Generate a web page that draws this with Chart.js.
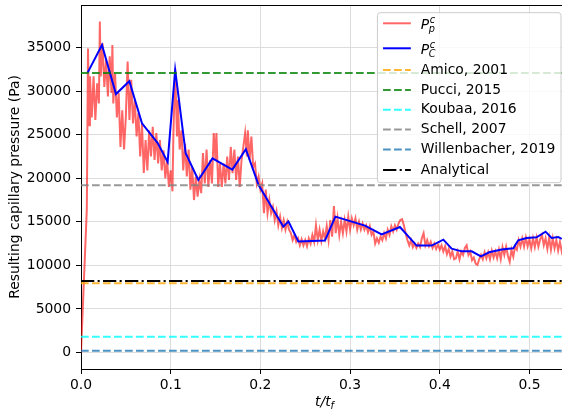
<!DOCTYPE html>
<html>
<head>
<meta charset="utf-8">
<script src="https://cdn.jsdelivr.net/npm/chart.js@4.4.1/dist/chart.umd.min.js"></script>
<style>
  html, body { margin: 0; padding: 0; background: #fff; overflow: hidden; }
  #wrap { width: 570px; height: 413px; }
</style>
</head>
<body>
<div id="wrap"><canvas id="chart" width="570" height="413"></canvas></div>
<script>
// P_p^c : pore-scale capillary pressure (noisy signal), t/t_f and Pa
const redT = [
  0, 0.0065, 0.0078, 0.009, 0.010, 0.012, 0.014, 0.016, 0.018, 0.020, 0.021, 0.022, 0.024, 0.026, 0.028, 0.030,
  0.032, 0.034, 0.035, 0.036, 0.038, 0.040, 0.042, 0.044, 0.046, 0.048, 0.050, 0.052, 0.054, 0.056, 0.058, 0.060,
  0.062, 0.064, 0.066, 0.068, 0.070, 0.072, 0.074, 0.076, 0.078, 0.080, 0.082, 0.084, 0.086, 0.088, 0.090, 0.092,
  0.094, 0.096, 0.098, 0.100, 0.102, 0.103, 0.105, 0.107, 0.108, 0.110, 0.112, 0.114, 0.116, 0.118, 0.120, 0.122,
  0.124, 0.126, 0.128, 0.130, 0.132, 0.134, 0.136, 0.138, 0.140, 0.142, 0.144, 0.146, 0.148, 0.150, 0.151, 0.153,
  0.155, 0.157, 0.159, 0.161, 0.163, 0.165, 0.167, 0.169, 0.171, 0.173, 0.175, 0.177, 0.179, 0.181, 0.183, 0.185,
  0.186, 0.188, 0.190, 0.192, 0.194, 0.196, 0.198, 0.200, 0.202, 0.204, 0.206, 0.208, 0.210, 0.212, 0.214, 0.216,
  0.218, 0.220, 0.222, 0.224, 0.226, 0.228, 0.230, 0.232, 0.234, 0.236, 0.238, 0.240, 0.242, 0.244, 0.246, 0.248,
  0.250, 0.252, 0.254, 0.256, 0.258, 0.260, 0.262, 0.264, 0.266, 0.268, 0.270, 0.272, 0.274, 0.276, 0.278, 0.280,
  0.282, 0.284, 0.286, 0.288, 0.290, 0.292, 0.294, 0.296, 0.298, 0.300, 0.302, 0.304, 0.306, 0.308, 0.310, 0.312,
  0.314, 0.316, 0.318, 0.320, 0.322, 0.324, 0.326, 0.328, 0.330, 0.332, 0.334, 0.336, 0.338, 0.340, 0.342, 0.344,
  0.346, 0.348, 0.350, 0.352, 0.354, 0.356, 0.358, 0.360, 0.362, 0.364, 0.366, 0.368, 0.370, 0.372, 0.374, 0.376,
  0.378, 0.380, 0.382, 0.384, 0.386, 0.388, 0.390, 0.392, 0.394, 0.396, 0.398, 0.400, 0.402, 0.404, 0.406, 0.408,
  0.410, 0.412, 0.414, 0.416, 0.418, 0.420, 0.422, 0.424, 0.426, 0.428, 0.430, 0.432, 0.434, 0.436, 0.438, 0.440,
  0.442, 0.444, 0.446, 0.448, 0.450, 0.452, 0.454, 0.456, 0.458, 0.460, 0.462, 0.464, 0.466, 0.468, 0.470, 0.472,
  0.474, 0.476, 0.478, 0.480, 0.482, 0.484, 0.486, 0.488, 0.490, 0.492, 0.494, 0.496, 0.498, 0.500, 0.502, 0.504,
  0.506, 0.508, 0.510, 0.512, 0.514, 0.516, 0.518, 0.520, 0.522, 0.524, 0.526, 0.528, 0.530, 0.532, 0.534, 0.536,
  0.538, 0.540
];
const redP = [
  0, 16500, 34900, 26100, 31700, 27000, 31700, 26700, 30900, 28600, 38000, 31700, 35500, 30500, 33600, 29400,
  34000, 29800, 35300, 28600, 32000, 27000, 29800, 23600, 27800, 23300, 27100, 33400, 26700, 31300, 26300, 29000,
  24800, 27500, 22500, 26300, 20600, 24400, 20900, 25500, 22500, 25900, 22100, 25200, 21700, 24400, 20900, 23200,
  20000, 22100, 19000, 20900, 18500, 25000, 32600, 24800, 29000, 23300, 25500, 20900, 24000, 20200, 23300, 18700,
  21300, 17500, 20200, 17900, 19800, 18300, 22900, 19400, 23300, 19000, 22100, 19400, 25200, 22100, 25200, 19000,
  21700, 19000, 21700, 19400, 22500, 19800, 23600, 20600, 23300, 19800, 22500, 19000, 22100, 23600, 25200, 22500,
  25500, 22100, 24800, 21300, 21700, 19400, 20200, 18700, 19400, 16000, 18700, 16000, 17500, 16000, 16700, 15200,
  16200, 14600, 15600, 14300, 15200, 14100, 15000, 14100, 13700, 12900, 13500, 12700, 13100, 12300, 13000, 12300,
  12900, 12200, 13100, 12500, 13500, 12700, 14600, 12900, 14100, 12800, 13900, 13100, 14500, 12900, 15200, 13300,
  16800, 13700, 15400, 13500, 15000, 13700, 15200, 13900, 15600, 14100, 15400, 14600, 15400, 14100, 15000, 14100,
  14800, 14100, 14600, 13800, 14500, 13500, 13900, 12500, 13100, 12600, 13300, 12900, 13700, 13100, 14100, 13500,
  14500, 13900, 14600, 14100, 14800, 15200, 15300, 14600, 13700, 12900, 12300, 12900, 12100, 12500, 12000, 12500,
  12100, 13100, 13700, 12300, 12900, 12200, 12700, 12000, 12500, 11900, 12400, 11800, 12300, 11600, 12200, 11300,
  11900, 11000, 11600, 10700, 10800, 11600, 10700, 11600, 11200, 12000, 12300, 11200, 11600, 10600, 10900, 10200,
  10050, 10700, 11200, 10700, 11500, 10800, 11500, 10700, 11700, 10900, 11600, 10800, 11800, 10700, 12100, 11200,
  12150, 11100, 10400, 11800, 11000, 12150, 11800, 12900, 12150, 13100, 12150, 13200, 12200, 13000, 11950, 13100,
  12100, 13200, 12150, 13000, 13500, 12300, 13100, 11900, 13200, 11800, 13100, 11950, 12900, 11700, 12700, 11600,
  12400, 11800
];
// P_C^c : averaged capillary pressure
const blueT = [
  0.0074, 0.0234, 0.0390, 0.0539, 0.0680, 0.0855, 0.0966, 0.1050, 0.1167, 0.1308, 0.1466, 0.1687, 0.1838, 0.1980,
  0.2256, 0.2313, 0.2423, 0.2720, 0.2836, 0.3166, 0.3352, 0.3556, 0.3742, 0.3910, 0.4040, 0.4133, 0.4244, 0.4356,
  0.4459, 0.4552, 0.4690, 0.4820, 0.4875, 0.4969, 0.5080, 0.5180, 0.5247, 0.5320, 0.5360
];
const blueP = [
  32130, 35300, 29670, 31150, 26320, 24050, 21880, 32440, 22880, 19800, 22290, 21000, 23340, 19220,
  14440, 15050, 12750, 12850, 15600, 14560, 13560, 14410, 12270, 12270, 12950, 11920, 11610, 11610,
  11040, 11500, 11810, 11960, 12880, 13150, 13220, 13870, 13150, 13260, 13030
];
// reference values (horizontal lines)
const refNames = ['Amico, 2001', 'Pucci, 2015', 'Koubaa, 2016', 'Schell, 2007', 'Willenbacher, 2019', 'Analytical'];
const refValues = [7950, 32100, 1800, 19200, 200, 8200];

const xTicks = [0, 0.1, 0.2, 0.3, 0.4, 0.5];
const yTicks = [0, 5000, 10000, 15000, 20000, 25000, 30000, 35000];
const xMin = 0, xMax = 0.543;
const yMin = -1900, yMax = 39900;

const FONT = '"DejaVu Sans", sans-serif';
const FS = 13.9;
const DASH = [7.7, 3.3];
const DASHDOT = [13.3, 3.3, 2.1, 3.3];
const refColors = ['rgba(255,165,0,0.8)', 'rgba(0,128,0,0.8)', 'rgba(0,255,255,0.8)',
  'rgba(128,128,128,0.8)', 'rgba(31,119,180,0.8)', '#000000'];

const datasets = [
  {
    label: 'P_p^c',
    data: redT.map((t, i) => ({ x: t, y: redP[i] })),
    borderColor: 'rgba(255,0,0,0.6)', borderWidth: 2, pointRadius: 0, order: 8
  },
  {
    label: 'P_C^c',
    data: blueT.map((t, i) => ({ x: t, y: blueP[i] })),
    borderColor: '#0000ff', borderWidth: 2, pointRadius: 0, order: 7
  },
  ...refNames.map((name, i) => ({
    label: name,
    data: [{ x: xMin, y: refValues[i] }, { x: xMax, y: refValues[i] }],
    borderColor: refColors[i], borderWidth: 2, pointRadius: 0,
    borderDash: i === 5 ? DASHDOT : DASH, order: 6 - i
  }))
];

// P with sub- and superscript, mathtext-like
function drawMath(ctx, x, y, sub, sup) {
  ctx.textAlign = 'left';
  ctx.textBaseline = 'alphabetic';
  ctx.font = 'italic ' + FS + 'px ' + FONT;
  ctx.fillText('P', x, y + 6);
  const w = ctx.measureText('P').width;
  ctx.font = 'italic 9.7px ' + FONT;
  ctx.fillText(sup, x + w + 0.5, y - 0.5);
  ctx.fillText(sub, x + w - 0.5, y + 9);
}

const decor = {
  id: 'decor',
  afterDraw(chart) {
    const ctx = chart.ctx, a = chart.chartArea;
    ctx.save();
    // top spine
    ctx.strokeStyle = '#000';
    ctx.lineWidth = 1;
    ctx.beginPath();
    ctx.moveTo(a.left, a.top + 0.5);
    ctx.lineTo(a.right, a.top + 0.5);
    ctx.stroke();

    // axis titles
    ctx.fillStyle = '#000';
    ctx.font = FS + 'px ' + FONT;
    ctx.textAlign = 'center';
    ctx.textBaseline = 'middle';
    ctx.save();
    ctx.translate(15.5, (a.top + a.bottom) / 2);
    ctx.rotate(-Math.PI / 2);
    ctx.fillText('Resulting capillary pressure (Pa)', 0, 0);
    ctx.restore();

    ctx.textAlign = 'left';
    ctx.textBaseline = 'alphabetic';
    ctx.font = 'italic ' + FS + 'px ' + FONT;
    const w1 = ctx.measureText('t/t').width;
    ctx.font = 'italic 9.7px ' + FONT;
    const w2 = ctx.measureText('f').width;
    const x0 = (a.left + a.right) / 2 - (w1 + w2) / 2;
    ctx.font = 'italic ' + FS + 'px ' + FONT;
    ctx.fillText('t/t', x0, 406);
    ctx.font = 'italic 9.7px ' + FONT;
    ctx.fillText('f', x0 + w1, 409);

    // legend
    ctx.font = FS + 'px ' + FONT;
    let textW = 0;
    refNames.forEach(n => { textW = Math.max(textW, ctx.measureText(n).width); });
    const pad = 5.6, handle = 27.8, gap = 10;
    const boxR = a.right - 7, boxT = a.top + 7.7, boxB = boxT + 170;
    const boxL = boxR - (pad + handle + gap + textW + pad);
    const r = 2.8;
    ctx.beginPath();
    ctx.moveTo(boxL + r, boxT);
    ctx.arcTo(boxR, boxT, boxR, boxB, r);
    ctx.arcTo(boxR, boxB, boxL, boxB, r);
    ctx.arcTo(boxL, boxB, boxL, boxT, r);
    ctx.arcTo(boxL, boxT, boxR, boxT, r);
    ctx.closePath();
    ctx.fillStyle = 'rgba(255,255,255,0.8)';
    ctx.fill();
    ctx.strokeStyle = '#cccccc';
    ctx.lineWidth = 1;
    ctx.stroke();

    const rows = [10.6, 35.6, 57.3, 77.3, 97, 116.8, 136.8, 157.3];
    chart.data.datasets.forEach((ds, i) => {
      const y = boxT + rows[i];
      const hx = boxL + pad;
      ctx.strokeStyle = ds.borderColor;
      ctx.lineWidth = ds.borderWidth;
      ctx.setLineDash(ds.borderDash || []);
      ctx.beginPath();
      ctx.moveTo(hx, y);
      ctx.lineTo(hx + handle, y);
      ctx.stroke();
      ctx.setLineDash([]);
      ctx.fillStyle = '#000';
      const tx = hx + handle + gap;
      if (i === 0) drawMath(ctx, tx, y, 'p', 'c');
      else if (i === 1) drawMath(ctx, tx, y, 'C', 'c');
      else {
        ctx.font = FS + 'px ' + FONT;
        ctx.textAlign = 'left';
        ctx.textBaseline = 'middle';
        ctx.fillText(ds.label, tx, y);
      }
    });
    ctx.restore();
  }
};

new Chart(document.getElementById('chart'), {
  type: 'line',
  data: { datasets },
  options: {
    responsive: false,
    devicePixelRatio: 1,
    animation: false,
    events: [],
    layout: { padding: { top: 5, right: 2, left: 0, bottom: 0 } },
    elements: { line: { tension: 0 } },
    plugins: { legend: { display: false }, tooltip: { enabled: false }, title: { display: false } },
    scales: {
      x: {
        type: 'linear', min: xMin, max: xMax,
        afterBuildTicks: s => { s.ticks = xTicks.map(v => ({ value: v })); },
        afterFit: s => { s.height = 44; s.paddingLeft = 0; s.paddingRight = 0; },
        ticks: {
          callback: v => v.toFixed(1), color: '#000', padding: 3,
          font: { family: FONT, size: FS }, maxRotation: 0, autoSkip: false
        },
        grid: { color: '#dcdcdc', lineWidth: 1, tickColor: '#000', tickLength: 5 },
        border: { color: '#000', width: 1 }
      },
      y: {
        type: 'linear', min: yMin, max: yMax,
        afterBuildTicks: s => { s.ticks = yTicks.map(v => ({ value: v })); },
        afterFit: s => { s.width = 81; s.paddingTop = 0; s.paddingBottom = 0; },
        ticks: {
          callback: v => String(v), color: '#000', padding: 5,
          font: { family: FONT, size: FS }, autoSkip: false
        },
        grid: { color: '#dcdcdc', lineWidth: 1, tickColor: '#000', tickLength: 5 },
        border: { color: '#000', width: 1 }
      }
    }
  },
  plugins: [decor]
});
</script>
</body>
</html>
